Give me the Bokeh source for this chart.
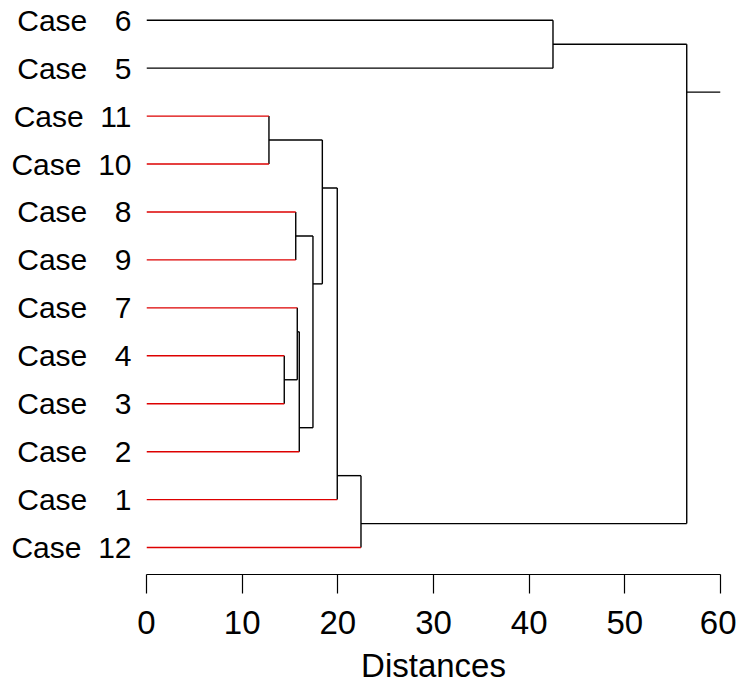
from bokeh.plotting import figure
from bokeh.models import Range1d, FixedTicker
from bokeh.embed import file_html
from bokeh.resources import INLINE

# ---- data ----
leaf_labels = ["Case 6", "Case 5", "Case 11", "Case 10", "Case 8", "Case 9",
               "Case 7", "Case 4", "Case 3", "Case 2", "Case 1", "Case 12"]
leaf_colors = ["black", "black", "red", "red", "red", "red",
               "red", "red", "red", "red", "red", "red"]
# merges: (child_a, child_b, height); children are leaf labels or merge indices
merge_a = ["Case 11", "Case 8", "Case 4", "Case 7", 3, 1, 0, 6, 7, "Case 6", 9]
merge_b = ["Case 10", "Case 9", "Case 3", 2, "Case 2", 4, 5, "Case 1", "Case 12", "Case 5", 8]
merge_h = [12.80, 15.60, 14.40, 15.76, 15.97, 17.40, 18.38, 19.94, 22.42, 42.49, 56.47]
x_ticks = [0, 10, 20, 30, 40, 50, 60]
x_title = "Distances"

RED = "#DD0000"
FONT = "Liberation Sans"

# ---- layout of the tree ----
leaf_idx = {lab: i for i, lab in enumerate(leaf_labels)}
span = {}
attach = {}

def node_info(c):
    if isinstance(c, str):
        i = leaf_idx[c]
        return ("L", c), i, i, float(i), 0.0
    return ("M", c), span[c][0], span[c][1], attach[c], merge_h[c]

seg_x0, seg_y0, seg_x1, seg_y1, seg_c = [], [], [], [], []
for m, (a, b, h) in enumerate(zip(merge_a, merge_b, merge_h)):
    ka, lo_a, hi_a, ya, xa = node_info(a)
    kb, lo_b, hi_b, yb, xb = node_info(b)
    upper_hi = hi_a if lo_a < lo_b else hi_b
    span[m] = (min(lo_a, lo_b), max(hi_a, hi_b))
    attach[m] = upper_hi + 0.5
    # vertical
    seg_x0.append(h); seg_x1.append(h); seg_y0.append(ya); seg_y1.append(yb); seg_c.append("black")
    # horizontals from children
    for k, y, x in ((ka, ya, xa), (kb, yb, xb)):
        col = "black"
        if k[0] == "L":
            col = RED if leaf_colors[leaf_idx[k[1]]] == "red" else "black"
        seg_x0.append(x); seg_x1.append(h); seg_y0.append(y); seg_y1.append(y); seg_c.append(col)

root = len(merge_h) - 1
seg_x0.append(merge_h[root]); seg_x1.append(x_ticks[-1])
seg_y0.append(attach[root]); seg_y1.append(attach[root]); seg_c.append("black")

# ---- figure ----
p = figure(frame_width=574, frame_height=568, output_backend="svg", toolbar_location=None,
           x_range=Range1d(0, 60), y_range=Range1d(11.562, -0.286),
           min_border_left=146, min_border_right=16, min_border_top=6, min_border_bottom=0)
p.outline_line_color = None
p.grid.visible = False
p.background_fill_color = "white"

p.segment(x0=seg_x0, y0=seg_y0, x1=seg_x1, y1=seg_y1, line_color=seg_c, line_width=1.4)

xa = p.xaxis[0]
xa.ticker = FixedTicker(ticks=x_ticks)
xa.axis_label = x_title
xa.axis_label_text_font = FONT
xa.axis_label_text_font_size = "33px"
xa.axis_label_text_font_style = "normal"
xa.axis_label_text_color = "black"
xa.axis_label_standoff = 10
xa.major_label_text_font = FONT
xa.major_label_text_font_size = "33px"
xa.major_label_text_color = "black"
xa.major_label_standoff = 17
xa.major_tick_out = 19
xa.major_tick_in = 0
xa.minor_tick_out = 0
xa.minor_tick_in = 0
xa.axis_line_color = "black"
xa.major_tick_line_color = "black"
xa.axis_line_width = 1.2
xa.major_tick_line_width = 1.2

ya_ = p.yaxis[0]
ya_.ticker = FixedTicker(ticks=list(range(len(leaf_labels))))
nb = "\u00a0"
overrides = {}
for i, lab in enumerate(leaf_labels):
    word, num = lab.split(" ")
    pad = nb * 3 + "\u200a" if len(num) == 1 else nb * 2
    overrides[i] = word + pad + num
ya_.major_label_overrides = overrides
ya_.major_label_text_font = FONT
ya_.major_label_text_font_size = "30px"
ya_.major_label_text_color = "black"
ya_.major_label_standoff = 15
ya_.axis_line_color = None
ya_.major_tick_line_color = None
ya_.minor_tick_line_color = None
ya_.major_tick_out = 0
ya_.major_tick_in = 0

open("out.html", "w").write(file_html(p, INLINE))
